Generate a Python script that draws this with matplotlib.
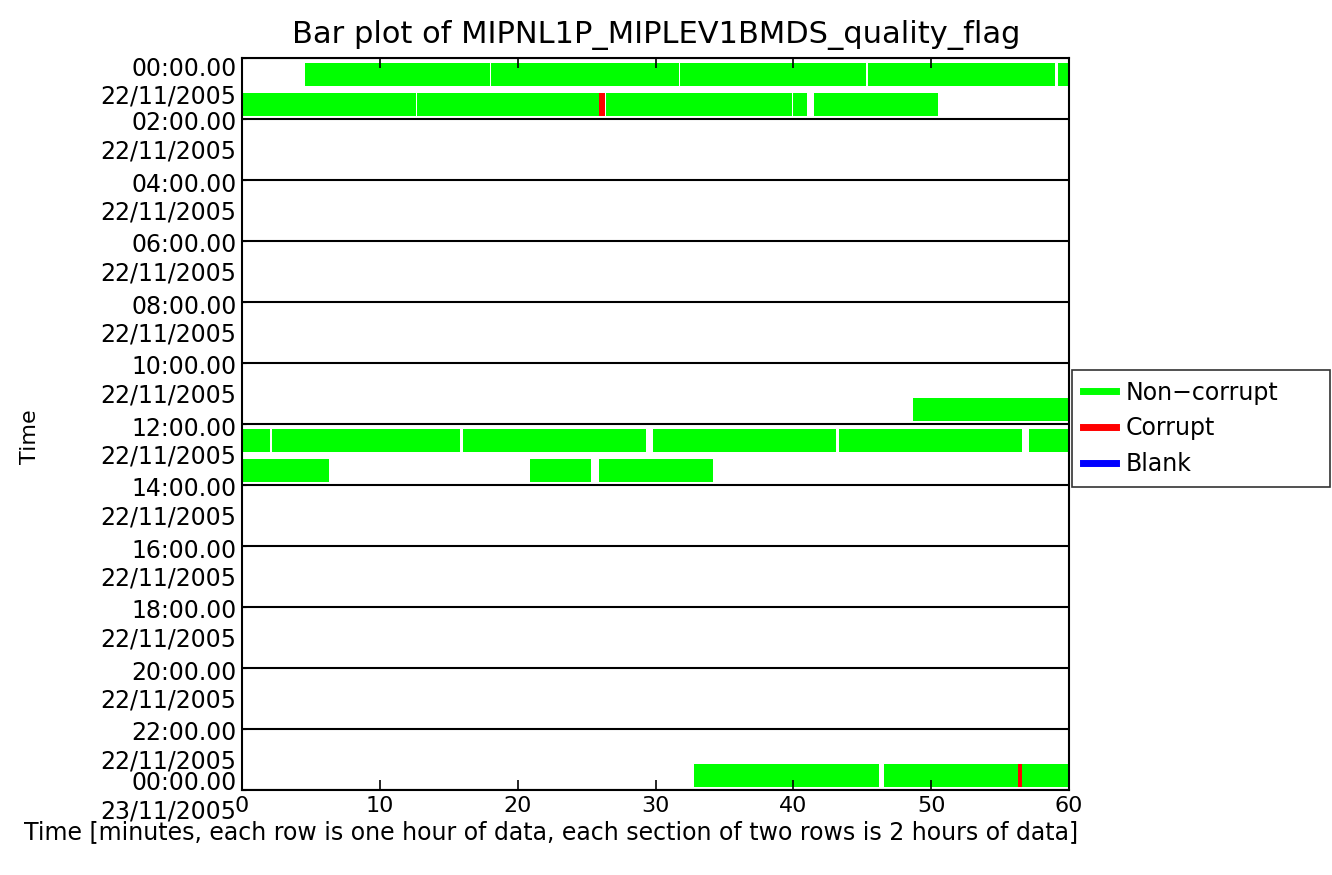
import matplotlib
matplotlib.use("Agg")
import matplotlib.pyplot as plt
import matplotlib.transforms as mtransforms
from matplotlib.lines import Line2D

# ---- data ----
section_labels = ["00:00.00\n22/11/2005", "02:00.00\n22/11/2005", "04:00.00\n22/11/2005",
                  "06:00.00\n22/11/2005", "08:00.00\n22/11/2005", "10:00.00\n22/11/2005",
                  "12:00.00\n22/11/2005", "14:00.00\n22/11/2005", "16:00.00\n22/11/2005",
                  "18:00.00\n22/11/2005", "20:00.00\n22/11/2005", "22:00.00\n22/11/2005",
                  "00:00.00\n23/11/2005"]
seg_row = [0, 0, 0, 0, 0,
           1, 1, 1, 1, 1, 1,
           11,
           12, 12, 12, 12, 12, 12,
           13, 13, 13,
           23, 23, 23, 23]
seg_start = [4.6, 18.1, 31.8, 45.4, 59.2,
             0.0, 12.7, 25.9, 26.4, 40.0, 41.5,
             48.7,
             0.0, 2.2, 16.0, 29.8, 43.3, 57.1,
             0.0, 20.9, 25.9,
             32.8, 46.6, 56.3, 56.6]
seg_end = [18.0, 31.7, 45.3, 59.0, 60.0,
           12.6, 25.9, 26.3, 39.9, 41.0, 50.5,
           60.0,
           2.0, 15.8, 29.3, 43.1, 56.6, 60.0,
           6.3, 25.3, 34.2,
           46.2, 56.3, 56.6, 60.0]
seg_flag = ["Non-corrupt"] * 7 + ["Corrupt"] + ["Non-corrupt"] * 15 + ["Corrupt", "Non-corrupt"]
flag_colors = {"Non-corrupt": "#00ff00", "Corrupt": "#ff0000", "Blank": "#0000ff"}
x_ticks = [0, 10, 20, 30, 40, 50, 60]

W, H = 1332, 875
fig = plt.figure(figsize=(W / 100, H / 100), dpi=100)
ax = fig.add_axes([242 / W, 1 - 790 / H, (1069 - 242) / W, (790 - 58) / H])

for r, s, e, f in zip(seg_row, seg_start, seg_end, seg_flag):
    ax.barh(r + 0.53, e - s, left=s, height=0.76, color=flag_colors[f], linewidth=0)

n_rows = 24
ax.set_xlim(0, 60)
ax.set_ylim(n_rows, 0)
for b in range(0, n_rows + 1, 2):
    ax.axhline(b, color="black", lw=1.5, zorder=3)

ax.set_xticks(x_ticks)
ax.set_xticklabels([str(t) for t in x_ticks], fontsize=16)
ax.tick_params(axis="x", direction="in", top=True, length=7, width=1.2, pad=4)
ax.set_yticks(range(0, n_rows + 1, 2))
ax.set_yticklabels(section_labels, fontsize=17, va="top", linespacing=1.2)
ax.tick_params(axis="y", direction="in", length=3, pad=4)
labels = ax.get_yticklabels()
for i, lbl in enumerate(labels):
    if i == 0:
        up = 1.5
    elif i == len(labels) - 1:
        up = 18.5
    else:
        up = 7.5
    lbl.set_transform(lbl.get_transform() + mtransforms.ScaledTranslation(0, up / 100, fig.dpi_scale_trans))
for sp in ax.spines.values():
    sp.set_linewidth(1.5)

fig.text(656 / W, 1 - 35 / H, "Bar plot of MIPNL1P_MIPLEV1BMDS_quality_flag", ha="center", va="center", fontsize=22)
fig.text(551 / W, 1 - 832 / H,
         "Time [minutes, each row is one hour of data, each section of two rows is 2 hours of data]",
         ha="center", va="center", fontsize=17)
fig.text(30 / W, 1 - 437 / H, "Time", rotation=90, ha="center", va="center", fontsize=16)

handles = [Line2D([0], [0], color=flag_colors[k], lw=5) for k in ["Non-corrupt", "Corrupt", "Blank"]]
leg = fig.legend(handles, ["Non\u2212corrupt", "Corrupt", "Blank"], loc="upper left",
                 bbox_to_anchor=(1072 / W, 1 - 490 / H, (1330 - 1072) / W, 120 / H), mode="expand",
                 fontsize=17, frameon=True,
                 fancybox=False, edgecolor="black", handlelength=1.4, handletextpad=0.42,
                 borderaxespad=0, labelspacing=0.5, borderpad=0.45)
leg.get_frame().set_linewidth(1.2)

fig.savefig("out.png", dpi=100)
